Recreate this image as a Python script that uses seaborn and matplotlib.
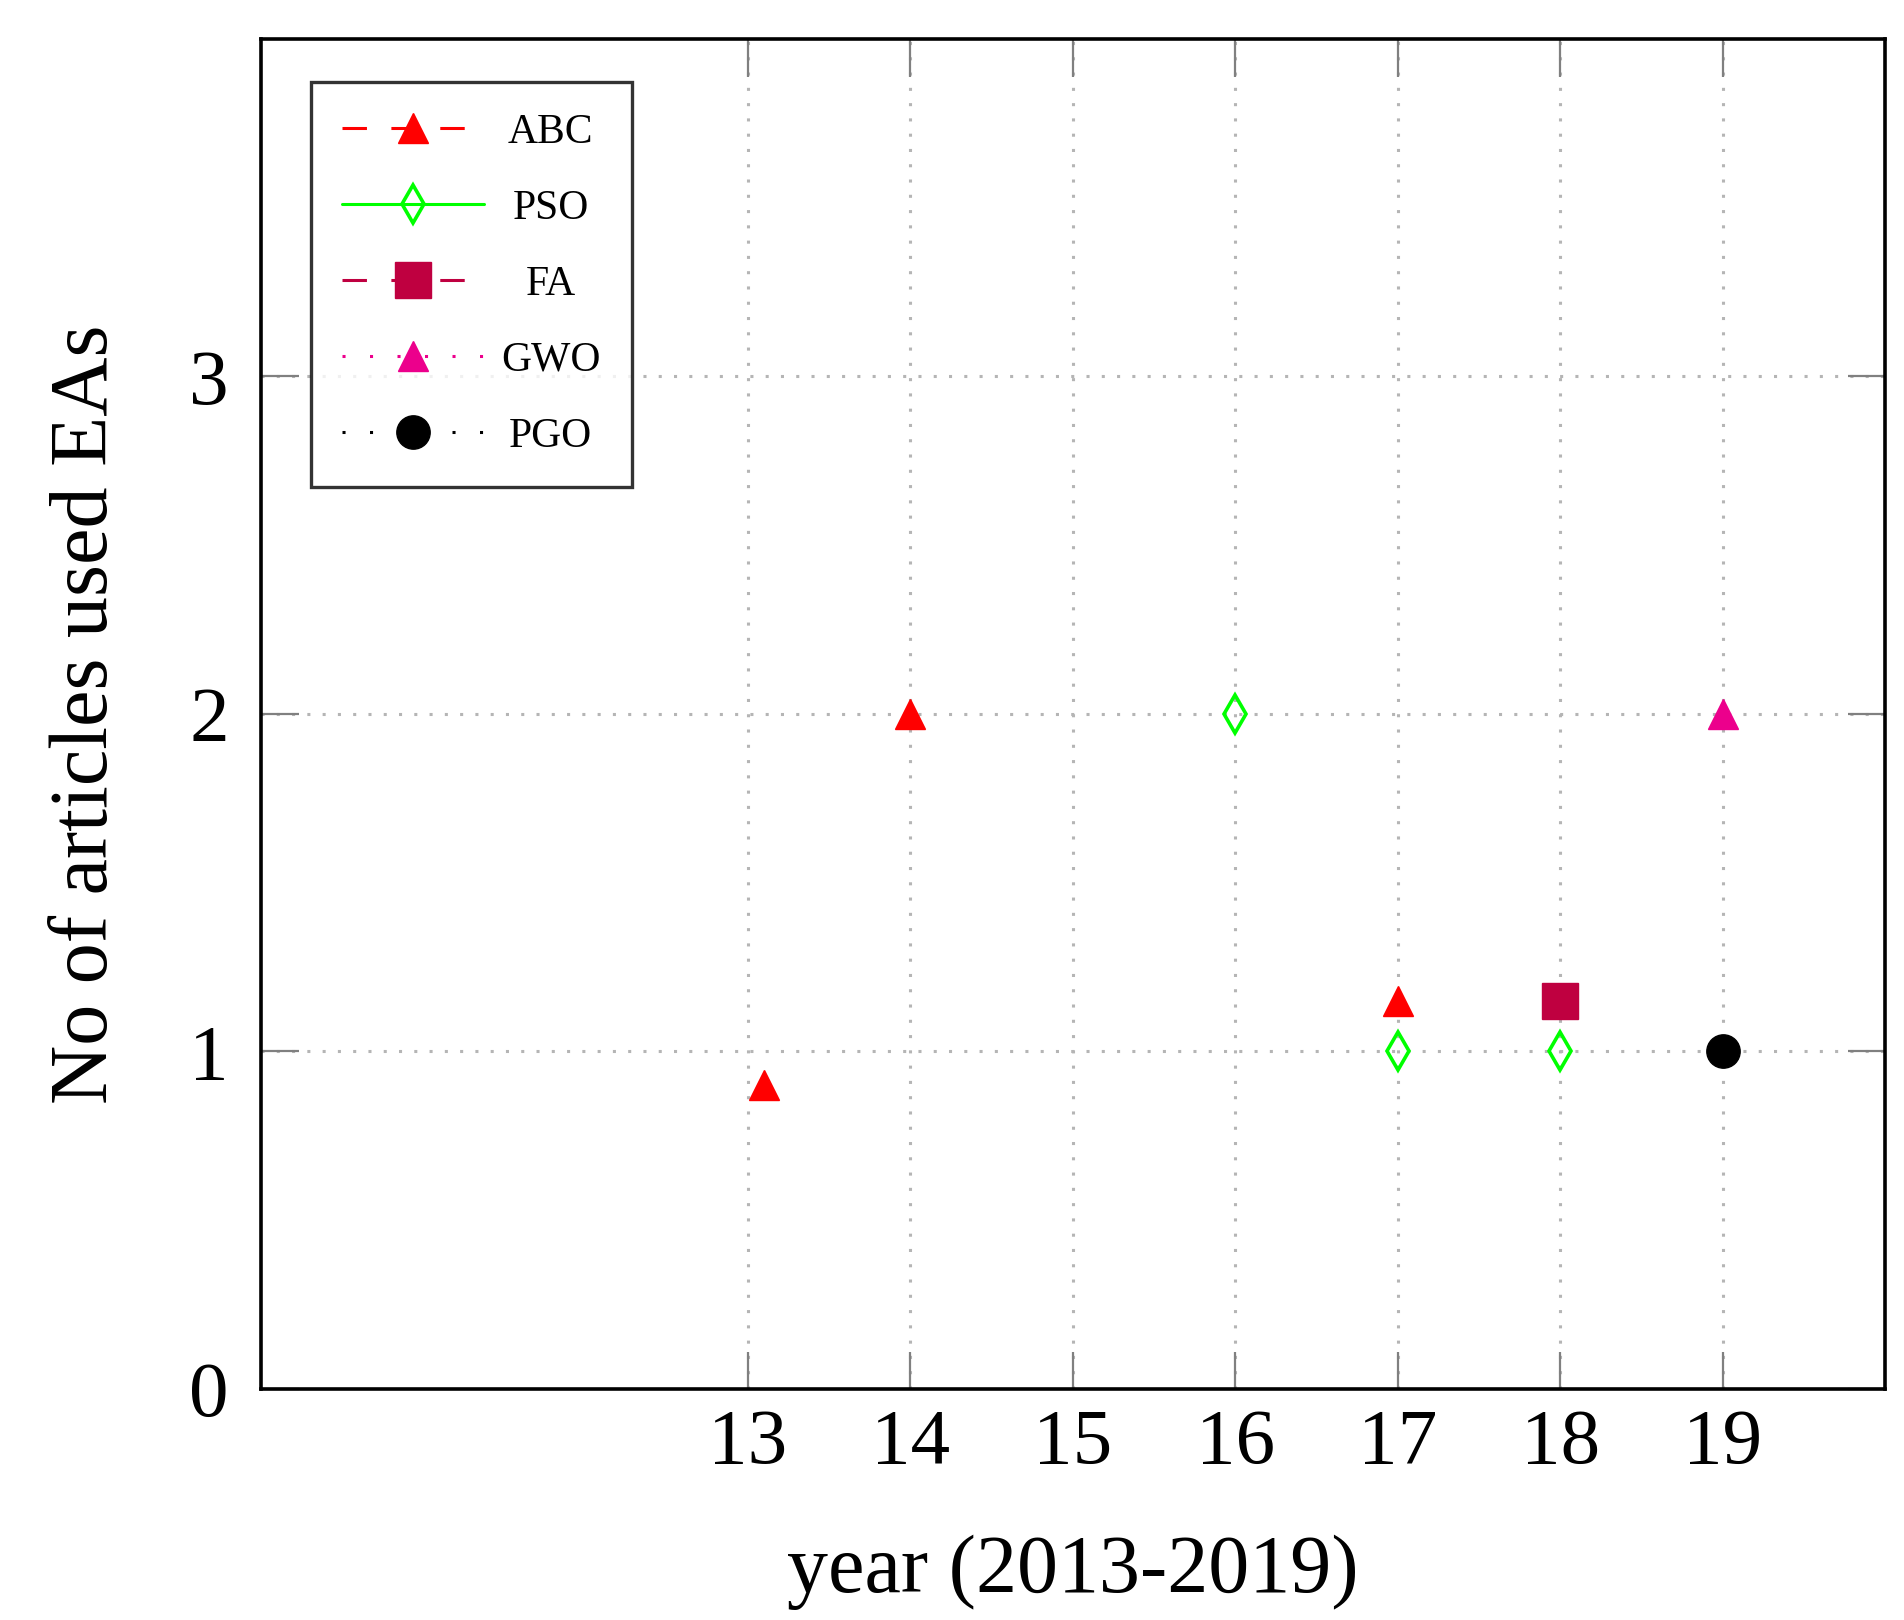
import matplotlib
matplotlib.use("Agg")
import matplotlib.pyplot as plt
from matplotlib.lines import Line2D
import seaborn as sns

# data
abc_x = [13.1, 14, 17]
abc_y = [0.9, 2, 1.15]
pso_x = [16, 17, 18]
pso_y = [2, 1, 1]
fa_x = [18]
fa_y = [1.15]
gwo_x = [19]
gwo_y = [2]
pgo_x = [19]
pgo_y = [1]

names = ["ABC", "PSO", "FA", "GWO", "PGO"]
x_ticks = [13, 14, 15, 16, 17, 18, 19]
y_ticks = [0, 1, 2, 3]

sns.set_theme(style="white")
plt.rcParams['font.family'] = ['Liberation Serif', 'DejaVu Serif']
plt.rcParams['text.color'] = 'black'
plt.rcParams['axes.labelcolor'] = 'black'
plt.rcParams['xtick.labelcolor'] = 'black'
plt.rcParams['ytick.labelcolor'] = 'black'

fig = plt.figure(figsize=(19.04, 16.2), dpi=100)
ax = fig.add_axes([0.137, 0.1426, 0.853, 0.8334])

# colour, marker, size, filled, legend line style
series = [
    (abc_x, abc_y, "#ff0000", "^", 22, True, (0, (8, 8))),
    (pso_x, pso_y, "#00ff00", "d", 19, False, "-"),
    (fa_x, fa_y, "#bf0040", "s", 26, True, (0, (8, 8))),
    (gwo_x, gwo_y, "#ec008c", "^", 22, True, (0, (1, 8))),
    (pgo_x, pgo_y, "#000000", "o", 24, True, (0, (1, 8))),
]

handles = []
for (xs, ys, col, mk, ms, filled, ls), name in zip(series, names):
    sns.lineplot(x=xs, y=ys, ax=ax, color=col, marker=mk, markersize=ms,
                 linestyle="none", markeredgecolor=col,
                 markerfacecolor=col if filled else "none",
                 markeredgewidth=2.6 if not filled else 1.0,
                 legend=False, zorder=5)
    handles.append(Line2D([], [], color=col, linestyle=ls, linewidth=2.2,
                          marker=mk, markersize=ms, markeredgecolor=col,
                          markerfacecolor=col if filled else "none",
                          markeredgewidth=2.6 if not filled else 1.0,
                          label=name))

ax.set_xlim(10, 20)
ax.set_ylim(0, 4)
ax.set_xticks(x_ticks)
ax.set_yticks(y_ticks)
ax.grid(True, color="#b5b5b5", linestyle=(0, (1, 4)), linewidth=2.2)
ax.tick_params(axis="both", which="both", direction="in", length=27, width=1.6,
               color="#808080", top=True, right=True, bottom=True, left=True,
               labelsize=57, pad=14)
ax.tick_params(axis="y", pad=23)
for s in ax.spines.values():
    s.set_color("black")
    s.set_linewidth(2.6)

ax.set_xlabel("year (2013-2019)", fontsize=59, labelpad=39)
ax.set_ylabel("No of articles used EAs", fontsize=59, labelpad=46)

leg = ax.legend(handles=handles, loc="upper left", bbox_to_anchor=(0.031, 0.968),
                borderaxespad=0, fontsize=30, handlelength=3.4, handletextpad=0.4,
                labelspacing=0.9, borderpad=0.75, fancybox=False, frameon=True)
leg.get_frame().set_edgecolor("black")
leg.get_frame().set_linewidth(2.4)

# centre the legend labels like the original
fig.canvas.draw()
rend = fig.canvas.get_renderer()
widths = [t.get_window_extent(rend).width for t in leg.get_texts()]
for t, w in zip(leg.get_texts(), widths):
    t.set_position(((max(widths) - w) / 2, 0))

fig.savefig("out.png", dpi=100)
